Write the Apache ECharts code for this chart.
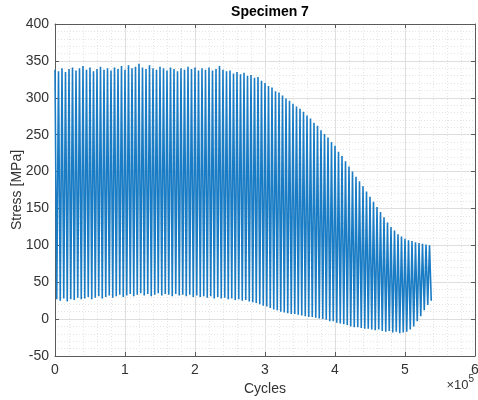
<!DOCTYPE html>
<html>
<head>
<meta charset="utf-8">
<script src="https://cdn.jsdelivr.net/npm/echarts@6/dist/echarts.min.js"></script>
<style>
html,body{margin:0;padding:0;background:#fff;}
#chart{width:478px;height:400px;}
</style>
</head>
<body>
<div id="chart"></div>
<script>
// Sampling step between successive load peaks (cycles)
const cycleStep = 5000;
// Peak (upper) stress of each oscillation, MPa
const peakStress = [
  338,336,340,335,339,341,337,340,343,338,
  341,336,339,342,338,340,337,341,339,343,
  338,344,340,342,346,341,339,344,340,338,
  342,340,337,341,339,336,340,338,342,339,
  341,337,340,338,341,337,339,343,338,336,
  337,333,335,332,334,330,331,327,328,323,
  320,316,314,309,307,303,299,296,292,288,
  285,281,276,272,266,262,256,251,246,240,
  235,227,221,214,207,200,193,187,180,173,
  166,159,152,145,138,131,125,120,115,112,
  109,107,106,104,103,102,101,100
];
// Valley (lower) stress of each oscillation, MPa
const valleyStress = [
  27,25,28,24,27,26,29,27,28,30,
  27,29,31,28,30,32,29,31,33,30,
  32,34,31,33,35,32,34,31,33,35,
  32,34,33,31,34,32,33,31,33,30,
  32,30,31,29,31,28,30,28,29,27,
  28,26,27,25,26,24,23,22,20,18,
  17,15,13,12,10,9,8,7,7,6,
  5,4,3,3,2,1,0,-1,-3,-3,
  -5,-6,-7,-8,-10,-11,-11,-12,-13,-13,
  -14,-15,-14,-16,-17,-16,-18,-17,-19,-18,
  -17,-14,-10,-3,4,12,19,25
];
const xTicks = [0,1,2,3,4,5,6];          // ×10^5 cycles
const yTicks = [-50,0,50,100,150,200,250,300,350,400];

const seriesData = [];
for (let i = 0; i < peakStress.length; i++) {
  seriesData.push([i * cycleStep, peakStress[i]]);
  seriesData.push([i * cycleStep + cycleStep / 2, valleyStress[i]]);
}

const FONT = 'Liberation Sans, Arial, sans-serif';
const TXT = '#333333';
const AX = '#5a5a5a';

const chart = echarts.init(document.getElementById('chart'), null, {renderer: 'canvas'});
const xScale = 1e5;
const commonX = {
  type: 'value',
  min: xTicks[0] * xScale,
  max: xTicks[xTicks.length - 1] * xScale,
  interval: xScale
};
const commonY = {
  type: 'value',
  min: yTicks[0],
  max: yTicks[yTicks.length - 1],
  interval: 50
};
chart.setOption({
  animation: false,
  backgroundColor: '#ffffff',
  title: {
    text: 'Specimen 7',
    left: 265, top: 0, textAlign: 'center',
    textStyle: {fontFamily: FONT, fontSize: 14, fontWeight: 'bold', color: '#000'}
  },
  grid: {left: 55, right: 3, top: 24, bottom: 44, containLabel: false, outerBoundsMode: 'none'},
  xAxis: [
    Object.assign({}, commonX, {
      position: 'bottom',
      name: 'Cycles', nameLocation: 'middle', nameGap: 24,
      nameTextStyle: {fontFamily: FONT, fontSize: 14, color: TXT},
      axisLine: {show: true, onZero: false, lineStyle: {color: AX, width: 1}},
      axisTick: {show: true, inside: true, length: 4, lineStyle: {color: AX}},
      axisLabel: {fontFamily: FONT, fontSize: 14, color: TXT, margin: 7,
        formatter: v => String(Math.round(v / xScale))},
      splitLine: {show: true, lineStyle: {color: '#dedede', width: 1}},
      minorTick: {show: false, splitNumber: 5},
      minorSplitLine: {show: true, lineStyle: {color: '#e4e4e4', width: 1, type: [1, 2]}}
    }),
    Object.assign({}, commonX, {
      position: 'top',
      axisLine: {show: true, onZero: false, lineStyle: {color: AX, width: 1}},
      axisTick: {show: true, inside: true, length: 4, lineStyle: {color: AX}},
      axisLabel: {show: false},
      splitLine: {show: false}
    })
  ],
  yAxis: [
    Object.assign({}, commonY, {
      position: 'left',
      axisLine: {show: true, onZero: false, lineStyle: {color: AX, width: 1}},
      axisTick: {show: true, inside: true, length: 4, lineStyle: {color: AX}},
      axisLabel: {fontFamily: FONT, fontSize: 14, color: TXT, margin: 6},
      splitLine: {show: true, lineStyle: {color: '#dedede', width: 1}},
      minorTick: {show: false, splitNumber: 5},
      minorSplitLine: {show: true, lineStyle: {color: '#e4e4e4', width: 1, type: [1, 2]}}
    }),
    Object.assign({}, commonY, {
      position: 'right',
      axisLine: {show: true, onZero: false, lineStyle: {color: AX, width: 1}},
      axisTick: {show: true, inside: true, length: 4, lineStyle: {color: AX}},
      axisLabel: {show: false},
      splitLine: {show: false}
    })
  ],
  graphic: [{
    type: 'text',
    right: 4, top: 374,
    style: {
      text: '{a|×10}{b|5}',
      rich: {
        a: {fontFamily: FONT, fontSize: 13, fill: TXT, verticalAlign: 'bottom'},
        b: {fontFamily: FONT, fontSize: 10, fill: TXT, verticalAlign: 'top', padding: [0, 0, 8, 0]}
      }
    }
  }, {
    type: 'text',
    x: 17, y: 190,
    rotation: Math.PI / 2,
    style: {
      text: 'Stress [MPa]',
      fontFamily: FONT, fontSize: 14, fill: TXT,
      align: 'center', verticalAlign: 'middle'
    }
  }],
  series: [{
    type: 'line',
    data: seriesData,
    showSymbol: false,
    symbol: 'none',
    clip: true,
    lineStyle: {color: '#1a7cc4', width: 1.6},
    emphasis: {disabled: true}
  }]
});
</script>
</body>
</html>
